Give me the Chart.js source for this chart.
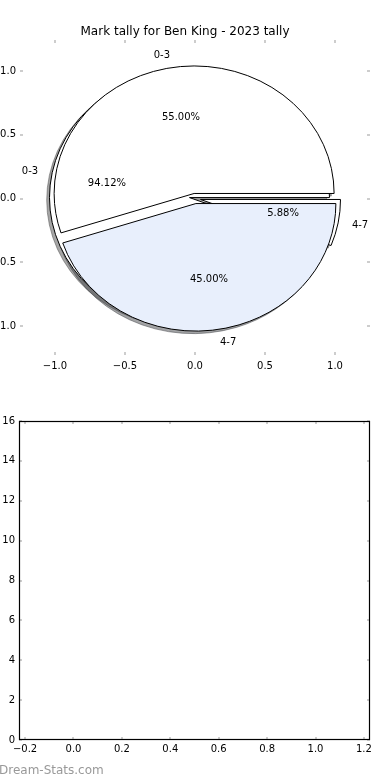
<!DOCTYPE html>
<html>
<head>
<meta charset="utf-8">
<script src="https://cdn.jsdelivr.net/npm/chart.js@4.4.0/dist/chart.umd.min.js"></script>
<style>
  html, body { margin: 0; padding: 0; background: #fff; }
  body { width: 390px; height: 780px; position: relative; overflow: hidden; }
  .box { position: absolute; left: 0; width: 390px; height: 390px; }
  #watermark { position: absolute; left: -1px; top: 764px; font: 12px/12px "DejaVu Sans"; color: #999; white-space: nowrap; }
</style>
</head>
<body>
<div class="box" style="top:0"><canvas id="pieChart" width="390" height="390"></canvas></div>
<div class="box" style="top:390px"><canvas id="emptyChart" width="390" height="390"></canvas></div>
<div id="watermark">Dream-Stats.com</div>
<script>
// data
const chartTitle = "Mark tally for Ben King - 2023 tally"
const markRanges = ["0-3", "4-7"]
const tallyFront = [11, 9]   // 55.00% / 45.00%
const tallyBack = [16, 1]    // 94.12% / 5.88%
const pieTicks = [-1.0, -0.5, 0.0, 0.5, 1.0]
const emptyXTicks = [-0.2, 0.0, 0.2, 0.4, 0.6, 0.8, 1.0, 1.2]
const emptyYTicks = [0, 2, 4, 6, 8, 10, 12, 14, 16]

// styles
const frontColours = ["#ffffff", "#e8effc"]
const backColours = ["#ffffff", "#ffffff"]
const FONT = "DejaVu Sans"
const tickGrey = "#bdbdbd"

function fmt1(v){
    const s = Math.abs(v).toFixed(1)
    return v < 0 ? "\u2212" + s : s
}

function wedgePath(ctx, px, py, rx, ry, t1, t2){
    ctx.beginPath()
    ctx.moveTo(px, py)
    ctx.ellipse(px, py, rx, ry, 0, -t1 * Math.PI / 180, -t2 * Math.PI / 180, true)
    ctx.closePath()
}

// matplotlib style pie: counter clockwise from 3 o'clock, exploded, with shadow
const piePlugin = {
    id: "mplPie",
    afterDatasetsDraw(chart, args, opts){
        if(!opts.pies) return
        const ctx = chart.ctx
        const xs = chart.scales.x, ys = chart.scales.y
        const rx = xs.getPixelForValue(1) - xs.getPixelForValue(0)
        const ry = ys.getPixelForValue(0) - ys.getPixelForValue(1)
        const wedges = []
        opts.pies.forEach(pie => {
            const total = pie.values.reduce((a, b) => a + b, 0)
            let theta = 0
            pie.values.forEach((v, i) => {
                const t2 = theta + 360 * v / total
                const mid = (theta + t2) / 2 * Math.PI / 180
                wedges.push({
                    cx: pie.explode * Math.cos(mid), cy: pie.explode * Math.sin(mid),
                    t1: theta, t2: t2, mid: mid, frac: v / total,
                    label: pie.labels[i], colour: pie.colours[i]
                })
                theta = t2
            })
        })
        ctx.save()
        // shadows first, under every wedge
        wedges.forEach(w => {
            const rgb = Chart.helpers.color(w.colour)._rgb
            const shade = "rgba(" + Math.round(rgb.r * 0.3) + "," + Math.round(rgb.g * 0.3) + "," + Math.round(rgb.b * 0.3) + ",0.5)"
            wedgePath(ctx, xs.getPixelForValue(w.cx - 0.02), ys.getPixelForValue(w.cy - 0.02), rx, ry, w.t1, w.t2)
            ctx.fillStyle = shade
            ctx.strokeStyle = shade
            ctx.lineWidth = 1
            ctx.fill()
            ctx.stroke()
        })
        wedges.forEach(w => {
            wedgePath(ctx, xs.getPixelForValue(w.cx), ys.getPixelForValue(w.cy), rx, ry, w.t1, w.t2)
            ctx.fillStyle = w.colour
            ctx.strokeStyle = "#000"
            ctx.lineWidth = 1
            ctx.fill()
            ctx.stroke()
        })
        ctx.fillStyle = "#000"
        ctx.font = "10px '" + FONT + "'"
        ctx.textBaseline = "middle"
        wedges.forEach(w => {
            const lx = w.cx + 1.1 * Math.cos(w.mid), ly = w.cy + 1.1 * Math.sin(w.mid)
            ctx.textAlign = lx < 0 ? "right" : "left"
            ctx.fillText(w.label, xs.getPixelForValue(lx), ys.getPixelForValue(ly))
            const px = w.cx + 0.6 * Math.cos(w.mid), py = w.cy + 0.6 * Math.sin(w.mid)
            ctx.textAlign = "center"
            ctx.fillText((w.frac * 100).toFixed(2) + "%", xs.getPixelForValue(px), ys.getPixelForValue(py))
        })
        ctx.restore()
    }
}

// inward grey ticks on all four sides, optional black frame
const framePlugin = {
    id: "mplFrame",
    afterDraw(chart, args, opts){
        const ctx = chart.ctx
        const a = chart.chartArea
        const xs = chart.scales.x, ys = chart.scales.y
        ctx.save()
        ctx.strokeStyle = tickGrey
        ctx.lineWidth = 1.5
        ctx.beginPath()
        xs.ticks.forEach(t => {
            const p = Math.round(xs.getPixelForValue(t.value))
            ctx.moveTo(p, a.top); ctx.lineTo(p, a.top + 3)
            ctx.moveTo(p, a.bottom); ctx.lineTo(p, a.bottom - 3)
        })
        ys.ticks.forEach(t => {
            const p = Math.round(ys.getPixelForValue(t.value))
            ctx.moveTo(a.left, p); ctx.lineTo(a.left + 3, p)
            ctx.moveTo(a.right, p); ctx.lineTo(a.right - 3, p)
        })
        ctx.stroke()
        if(opts.frame){
            ctx.strokeStyle = "#000"
            ctx.lineWidth = 1.2
            ctx.strokeRect(a.left + 0.5, a.top + 0.5, a.right - a.left - 1, a.bottom - a.top - 1)
        }
        ctx.restore()
    }
}

function axis(min, max, ticks, fmt, size, pad){
    return {
        type: "linear", min: min, max: max,
        grid: { display: false, drawTicks: false }, border: { display: false },
        afterBuildTicks: s => { s.ticks = ticks.map(v => ({ value: v })) },
        afterFit: s => { if(s.isHorizontal()) s.height = size; else s.width = size },
        ticks: { font: { family: FONT, size: 10 }, color: "#000", padding: pad,
                 autoSkip: false, maxRotation: 0, callback: fmt }
    }
}

new Chart(document.getElementById("pieChart"), {
    type: "scatter",
    data: { datasets: [{ data: [] }] },
    options: {
        responsive: false, animation: false, devicePixelRatio: 1,
        layout: { padding: { left: 0, right: 20, top: 0, bottom: 0 } },
        scales: {
            x: axis(-1.25, 1.25, pieTicks, v => fmt1(v), 35, 5),
            y: axis(-1.227, 1.243, pieTicks, v => fmt1(v), 20, 4)
        },
        plugins: {
            legend: { display: false }, tooltip: { enabled: false },
            title: { display: true, text: chartTitle, color: "#000",
                     font: { family: FONT, size: 12, weight: "normal", lineHeight: 1 },
                     padding: { top: 26, bottom: 2 } },
            mplPie: {
                pies: [
                    { values: tallyBack, labels: markRanges, colours: backColours, explode: 0.04 },
                    { values: tallyFront, labels: markRanges, colours: frontColours, explode: 0.04 }
                ]
            },
            mplFrame: { frame: false }
        }
    },
    plugins: [piePlugin, framePlugin]
})

new Chart(document.getElementById("emptyChart"), {
    type: "scatter",
    data: { datasets: [{ data: [] }] },
    options: {
        responsive: false, animation: false, devicePixelRatio: 1,
        layout: { padding: { left: 0, right: 20, top: 31, bottom: 0 } },
        scales: {
            x: axis(-0.225, 1.225, emptyXTicks, v => fmt1(v), 40, 3),
            y: axis(0, 16, emptyYTicks, v => String(v), 19, 4)
        },
        plugins: {
            legend: { display: false }, tooltip: { enabled: false },
            mplFrame: { frame: true }
        }
    },
    plugins: [framePlugin]
})
</script>
</body>
</html>
